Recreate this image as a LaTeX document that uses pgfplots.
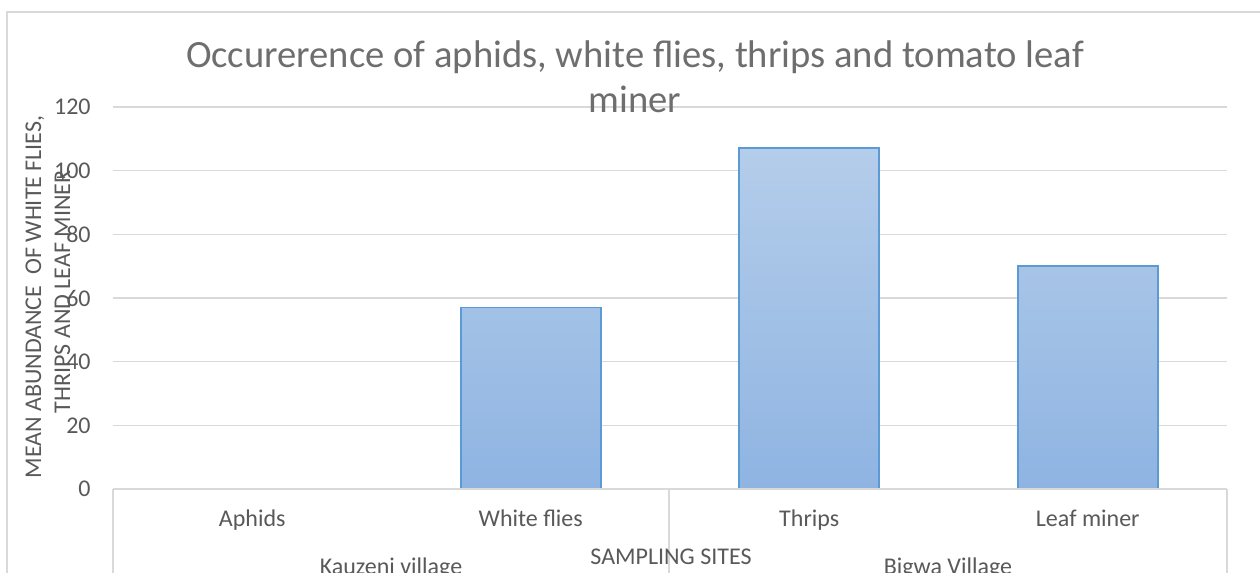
\documentclass[border=0pt]{standalone}
\usepackage{fontspec}
\setmainfont{Carlito}
\usepackage{pgfplots}
\pgfplotsset{compat=1.18}
\definecolor{txt}{HTML}{595959}
\definecolor{ttl}{HTML}{6E6E6E}
\definecolor{grid}{HTML}{D9D9D9}
\definecolor{barTop}{HTML}{B4CDEA}
\definecolor{barBot}{HTML}{8FB4E2}
\definecolor{barEdge}{HTML}{5B9BD5}
\begin{document}
\begin{tikzpicture}[x=0.5pt,y=0.5pt]
\clip (0,0) rectangle (1260,573);
\useasboundingbox (0,0) rectangle (1260,573);
\fill[white] (0,0) rectangle (1260,573);
\draw[grid, line width=0.75pt] (7,-20) -- (7,561) -- (1300,561);
\begin{axis}[
  at={(56.5pt,42pt)}, anchor=south west,
  width=557pt, height=191pt, scale only axis,
  xmin=-0.5, xmax=3.5, ymin=0, ymax=120,
  ytick={0,20,40,60,80,100,120},
  xtick={0,1,2,3},
  xticklabels={Aphids,White flies,Thrips,Leaf miner},
  axis line style={draw=none},
  major tick length=0pt,
  ymajorgrids, grid style={draw=grid, line width=0.75pt},
  /pgf/number format/assume math mode=true,
  ticklabel style={font=\fontsize{12}{14}\selectfont, text=txt},
  yticklabel style={anchor=east, inner sep=0pt, xshift=-11pt},
  xticklabel style={anchor=base, inner sep=0pt, yshift=-19pt},
  clip=false,
]
\addplot[ybar, bar width=70pt, top color=barTop, bottom color=barBot, draw=barEdge, line width=0.9pt,
  restrict y to domain=0.1:200]
  coordinates {(0,0) (1,57) (2,107) (3,70)};
\end{axis}
\draw[grid, line width=1pt] (113,84) -- (1227,84);
\draw[grid, line width=0.75pt] (113,84) -- (113,-10);
\draw[grid, line width=0.75pt] (669,84) -- (669,-10);
\draw[grid, line width=0.75pt] (1227,84) -- (1227,-10);
\begin{scope}[every node/.style={text=txt, inner sep=0pt}]
\node[anchor=base, text=ttl, font=\fontsize{19.3}{23}\selectfont] at (635,505) {Occurerence of aphids, white flies, thrips and tomato leaf};
\node[anchor=base, text=ttl, font=\fontsize{19.3}{23}\selectfont] at (635,460) {miner};
\node[anchor=base, font=\fontsize{12}{14}\selectfont] at (391,-2) {Kauzeni village};
\node[anchor=base, font=\fontsize{12}{14}\selectfont] at (948,-2) {Bigwa Village};
\node[anchor=base, font=\fontsize{12}{14}\selectfont] at (671,8) {SAMPLING SITES};
\node[anchor=base, rotate=90, font=\fontsize{12}{14}\selectfont] at (41,276) {MEAN ABUNDANCE\ \ OF WHITE FLIES,};
\node[anchor=base, rotate=90, font=\fontsize{12}{14}\selectfont] at (70,281) {THRIPS AND LEAF MINER};
\end{scope}
\end{tikzpicture}
\end{document}
